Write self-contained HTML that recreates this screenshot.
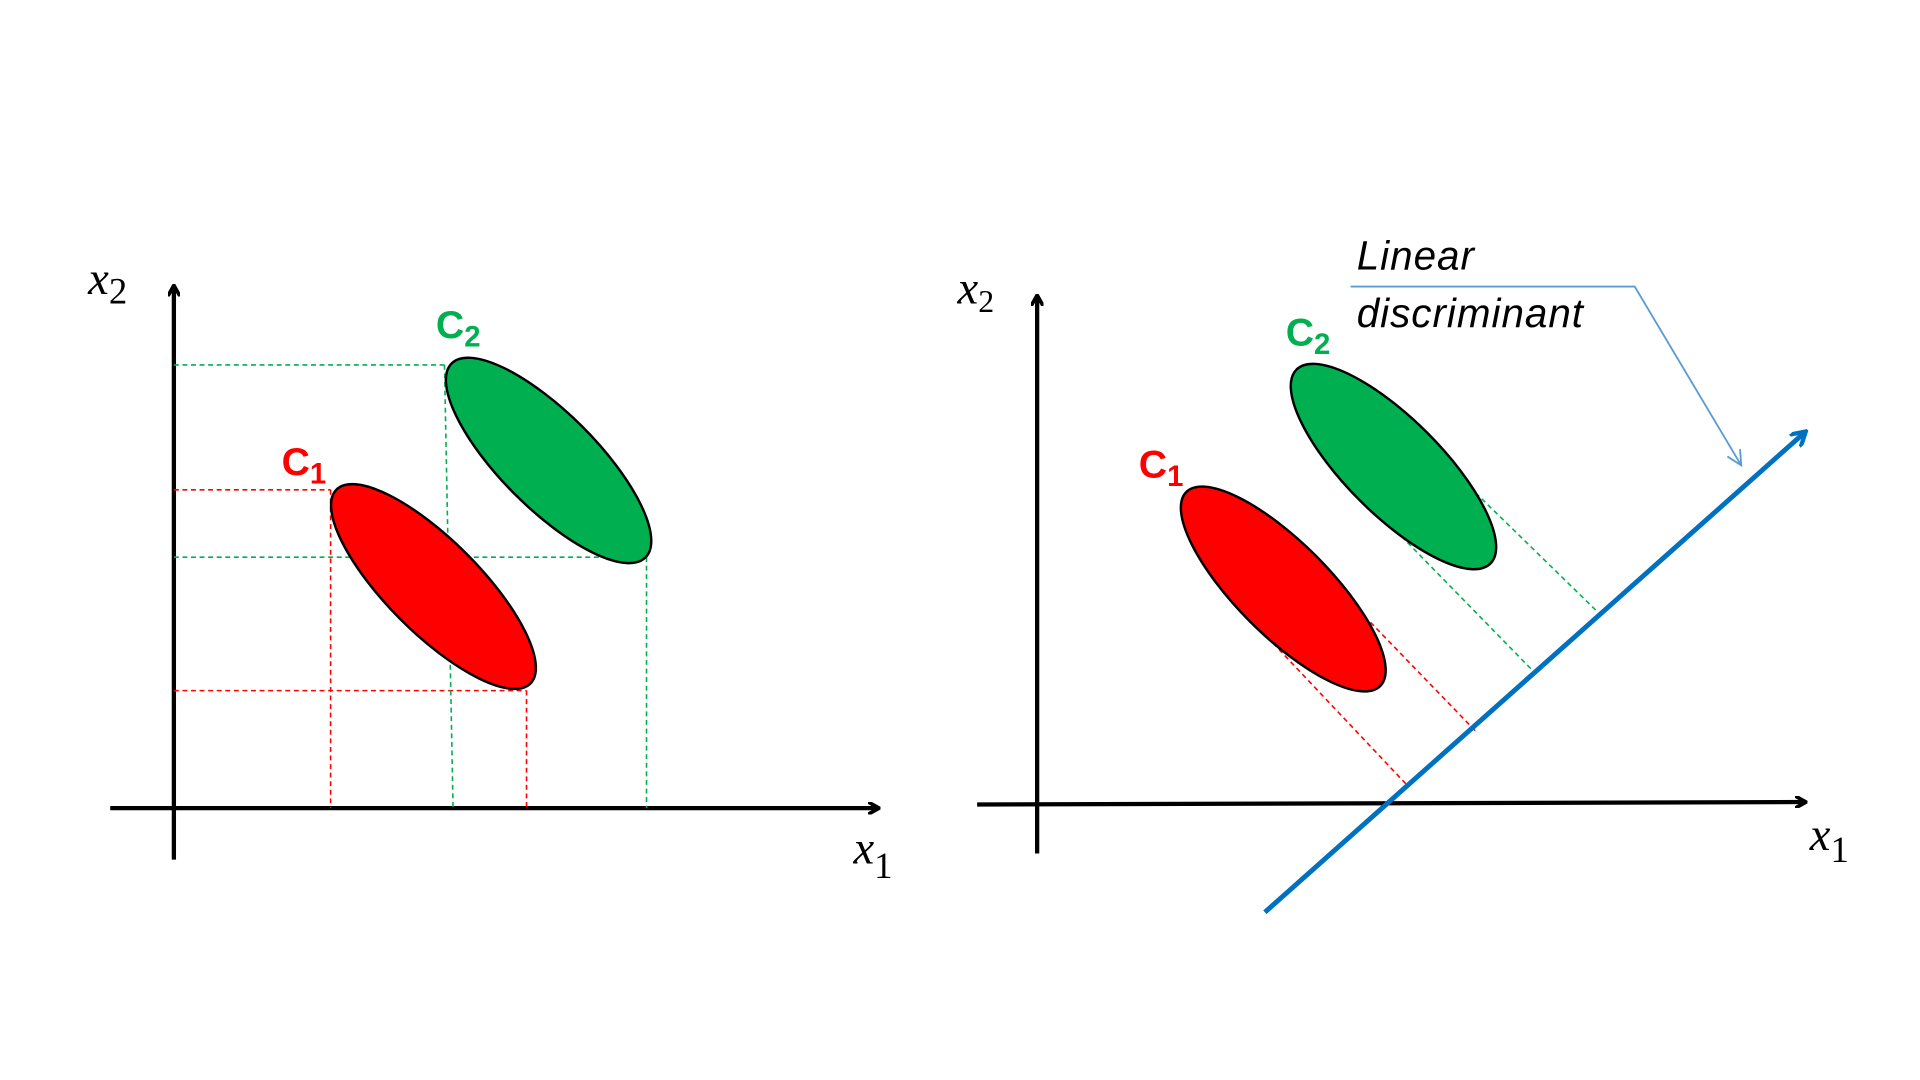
<!DOCTYPE html>
<html><head><meta charset="utf-8">
<style>
html,body{margin:0;padding:0;background:#fff;width:1920px;height:1080px;overflow:hidden}
svg{display:block}
.ax{font-family:"Liberation Serif",serif;font-style:italic;font-size:38px;fill:#000}
.cl{font-family:"Liberation Sans",sans-serif;font-weight:bold;font-size:32px}
.ld{font-family:"Liberation Sans",sans-serif;font-style:italic;font-size:33px;letter-spacing:0.8px;fill:#000}
</style></head>
<body>
<svg id="chart" width="1920" height="1080" viewBox="0 0 1568 882" xmlns="http://www.w3.org/2000/svg">
<defs>
<marker id="ak" markerWidth="10" markerHeight="10" refX="8" refY="5" orient="auto" markerUnits="userSpaceOnUse"><path d="M0,0 L9,5 L0,10" fill="none" stroke="#000" stroke-width="3"/></marker>
<marker id="ab" markerWidth="14" markerHeight="14" refX="11" refY="7" orient="auto" markerUnits="userSpaceOnUse"><path d="M0,0 L12,7 L0,14" fill="none" stroke="#0070c0" stroke-width="3.5"/></marker>
<marker id="at" markerWidth="14" markerHeight="14" refX="12" refY="7" orient="auto" markerUnits="userSpaceOnUse"><path d="M0,1 L12,7 L0,13" fill="none" stroke="#5b9bd5" stroke-width="1.5"/></marker>
</defs>

<g>
<line x1="142" y1="702" x2="142" y2="234" stroke="#000" stroke-width="3.5" marker-end="url(#ak)"/>
<line x1="90" y1="660" x2="717" y2="660" stroke="#000" stroke-width="3.5" marker-end="url(#ak)"/>
<text class="ax" x="72" y="240">x<tspan font-style="normal" font-size="30" dy="8">2</tspan></text>
<text class="ax" x="697" y="705">x<tspan font-style="normal" font-size="30" dy="12">1</tspan></text>
<g id="leftDash"></g>
<g id="leftEll"></g>
<text class="cl" x="230" y="388" fill="#ff0000">C<tspan font-size="24" dy="7">1</tspan></text>
<text class="cl" x="356" y="276" fill="#00b050">C<tspan font-size="24" dy="7">2</tspan></text>
</g>

<g>
<line x1="847" y1="697" x2="847" y2="242" stroke="#000" stroke-width="3.5" marker-end="url(#ak)"/>
<line x1="798" y1="657" x2="1474" y2="655" stroke="#000" stroke-width="3.5" marker-end="url(#ak)"/>
<text class="ax" x="782" y="248" font-size="32">x<tspan font-style="normal" font-size="26" dy="7">2</tspan></text>
<text class="ax" x="1478" y="694">x<tspan font-style="normal" font-size="30" dy="10">1</tspan></text>
<g id="rightDash"></g>
<g id="rightEll"></g>
<line x1="1033" y1="745" x2="1474" y2="353" stroke="#0070c0" stroke-width="4" marker-end="url(#ab)"/>
<text class="cl" x="930" y="390" fill="#ff0000">C<tspan font-size="24" dy="7">1</tspan></text>
<text class="cl" x="1050" y="282" fill="#00b050">C<tspan font-size="24" dy="7">2</tspan></text>
<text class="ld" x="1108" y="220">Linear</text>
<text class="ld" x="1108" y="267">discriminant</text>
<polyline points="1103,234 1335,234 1422,380" fill="none" stroke="#5b9bd5" stroke-width="1.5" marker-end="url(#at)"/>
</g>
</svg>
<script>
const NS = "http://www.w3.org/2000/svg";
const classNames = ["c1", "c2"];
const classColors = ["#ff0000", "#00b050"];
const leftCenterX = [354, 448];
const leftCenterY = [479, 376];
const rightCenterX = [1048, 1138];
const rightCenterY = [481, 381];
const semiMajor = [112, 112];
const semiMinor = [38, 39];
const rotationDeg = [45, 45];
const leftXMin = [270, 363];
const leftXMax = [430, 528];
const leftYMin = [400, 298];
const leftYMax = [564, 455];
const leftAxisX = 142, leftAxisY = 660;
const projStartX = [1030, 1090, 1125, 1180];
const projStartY = [515, 478, 418, 378];
const projEndX = [1148, 1205, 1252, 1305];
const projEndY = [640, 597, 548, 500];
const projClass = [0, 0, 1, 1];

function mk(tag, attrs, parent){
  const e = document.createElementNS(NS, tag);
  for (const k in attrs) e.setAttribute(k, attrs[k]);
  parent.appendChild(e);
  return e;
}
const lE = document.getElementById("leftEll"), rE = document.getElementById("rightEll");
const lD = document.getElementById("leftDash"), rD = document.getElementById("rightDash");
for (let i = 0; i < classNames.length; i++) {
  let e = mk("ellipse", {cx:leftCenterX[i], cy:leftCenterY[i], rx:semiMajor[i], ry:semiMinor[i],
    transform:`rotate(${rotationDeg[i]} ${leftCenterX[i]} ${leftCenterY[i]})`, fill:classColors[i], stroke:"#000", "stroke-width":2}, lE);
  
  
  e = mk("ellipse", {cx:rightCenterX[i], cy:rightCenterY[i], rx:semiMajor[i], ry:semiMinor[i],
    transform:`rotate(${rotationDeg[i]} ${rightCenterX[i]} ${rightCenterY[i]})`, fill:classColors[i], stroke:"#000", "stroke-width":2}, rE);
  
  
  const st = {stroke:classColors[i], "stroke-width":1.3, "stroke-dasharray":"4 3", fill:"none"};
  const segs = [
    [leftAxisX, leftYMin[i], leftXMin[i], leftYMin[i], 'h-top'],
    [leftAxisX, leftYMax[i], leftXMax[i], leftYMax[i], 'h-bottom'],
    [leftXMin[i], leftYMin[i], leftXMin[i] + (i ? 7 : 0), leftAxisY, 'v-left'],
    [leftXMax[i], leftYMax[i], leftXMax[i], leftAxisY, 'v-right']
  ];
  for (const s of segs) {
    const l = mk("line", Object.assign({x1:s[0], y1:s[1], x2:s[2], y2:s[3]}, st), lD);
    
    
  }
}
for (let j = 0; j < projStartX.length; j++) {
  const c = projClass[j];
  const l = mk("line", {x1:projStartX[j], y1:projStartY[j], x2:projEndX[j], y2:projEndY[j],
    stroke:classColors[c], "stroke-width":1.3, "stroke-dasharray":"4 3"}, rD);
  
  
}
</script>
</body></html>
